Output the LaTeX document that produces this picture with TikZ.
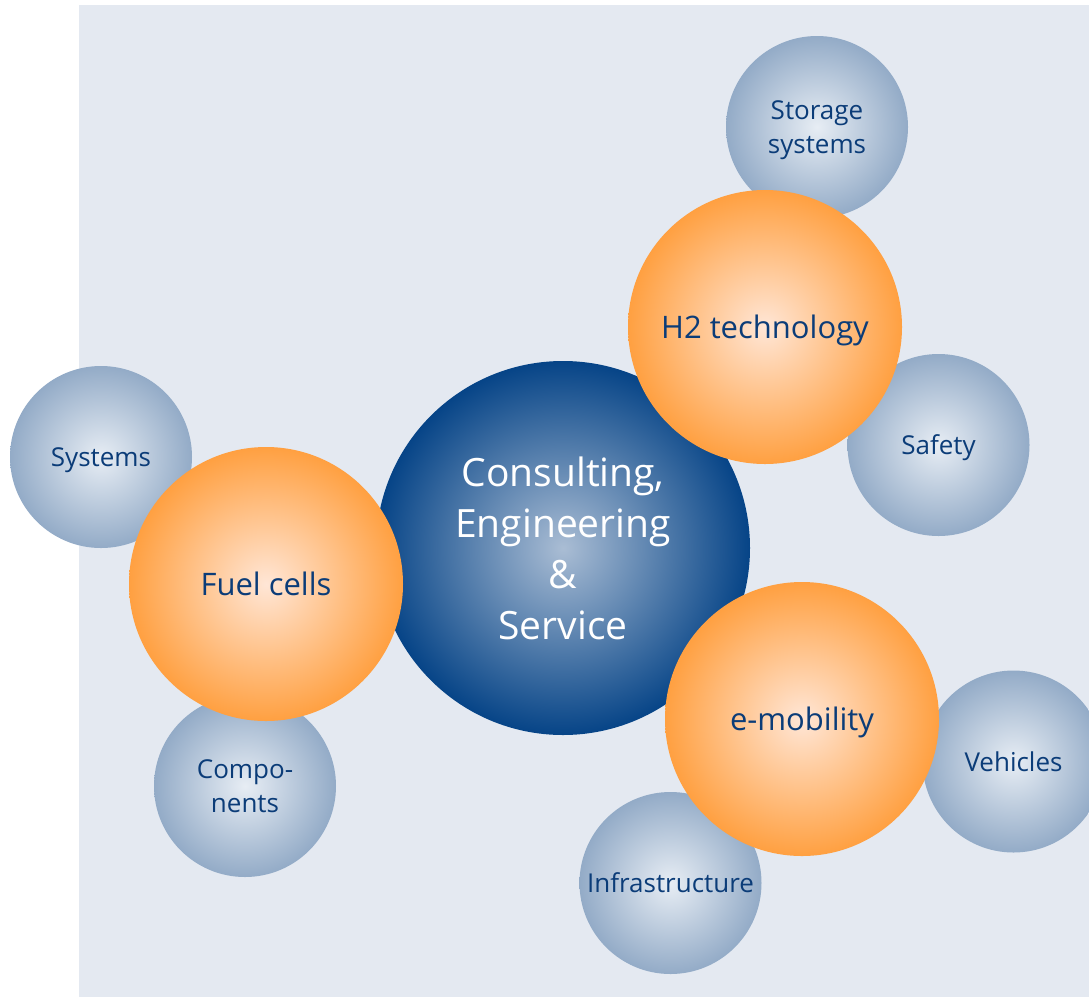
\documentclass[tikz,border=0pt]{standalone}
\usepackage{fontspec}
\setmainfont{Open Sans}
\definecolor{bgcol}{HTML}{E4E9F1}
\definecolor{txtcol}{HTML}{0B3C78}
\definecolor{orout}{HTML}{FFA041}
\definecolor{orin}{HTML}{FFE6D6}
\definecolor{blout}{HTML}{064487}
\definecolor{blin}{HTML}{AABDD4}
\definecolor{grout}{HTML}{93ABC7}
\definecolor{grin}{HTML}{E7EDF4}
\begin{document}
\begin{tikzpicture}[x=1pt,y=-1pt,
  bubble/.style={circle, inner sep=0pt, align=center, shading=radial, text depth=0pt},
  smallbub/.style={bubble, minimum size=182pt, inner color=grin, outer color=grout,
     text=txtcol, font=\fontsize{26}{34.5}\selectfont},
  midbub/.style={bubble, minimum size=274pt, inner color=orin, outer color=orout,
     text=txtcol, font=\fontsize{31}{38}\selectfont},
  bigbub/.style={bubble, minimum size=374pt, inner color=blin, outer color=blout,
     text=white, font=\fontsize{39}{51}\selectfont}]
\useasboundingbox (0,0) rectangle (1089,997);
\clip (0,0) rectangle (1089,997);
\fill[bgcol] (79,5) rectangle (1089,997);
% small bubbles
\node[smallbub] (storage) at (817,127) {Storage\\systems};
\node[smallbub] (safety) at (938.5,445) {Safety};
\node[smallbub] (systems) at (101,457) {Systems};
\node[smallbub] (components) at (245,786) {Compo-\\nents};
\node[smallbub] (vehicles) at (1013.5,761.5) {Vehicles};
\node[smallbub] (infra) at (670.5,883) {Infrastructure};
% central bubble
\node[bigbub] (center) at (563,548) {Consulting,\\Engineering\\\&\\Service};
% orange bubbles
\node[midbub] (h2) at (765,327) {H2 technology};
\node[midbub] (fuel) at (266,584) {Fuel cells};
\node[midbub] (emob) at (802,719) {e-mobility};
\end{tikzpicture}
\end{document}
